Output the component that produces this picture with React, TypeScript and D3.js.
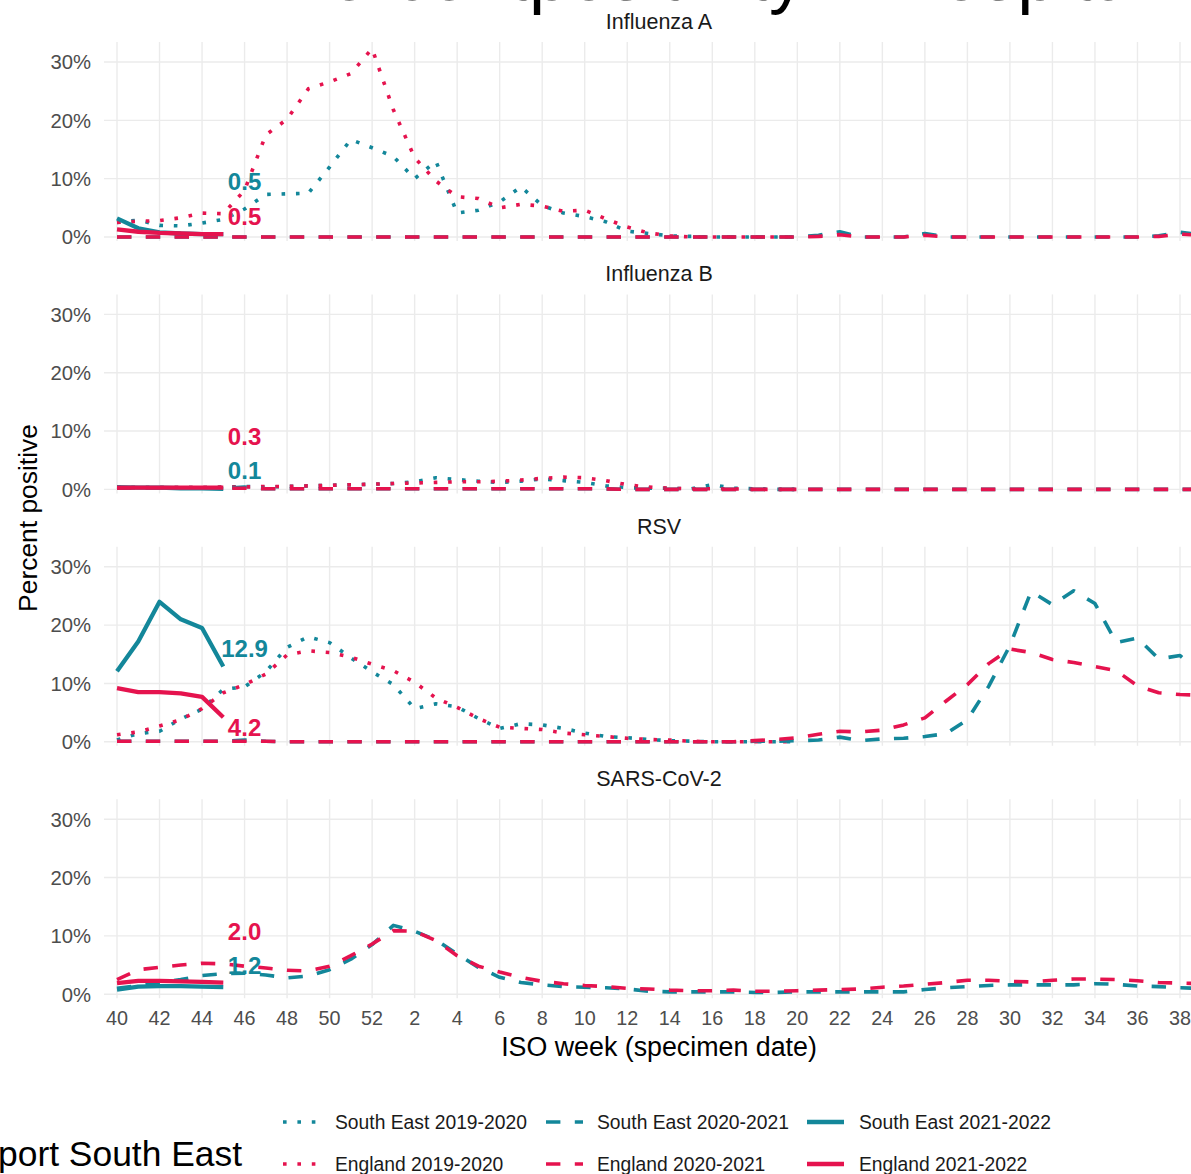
import React from 'react';
import * as d3 from 'd3';

// ISO weeks shown on the x axis (season runs week 40 -> week 39)
const weeks = [40, 41, 42, 43, 44, 45, 46, 47, 48, 49, 50, 51, 52, 1, 2, 3, 4, 5, 6, 7, 8, 9, 10, 11, 12, 13, 14, 15, 16, 17, 18, 19, 20, 21, 22, 23, 24, 25, 26, 27, 28, 29, 30, 31, 32, 33, 34, 35, 36, 37, 38, 39];
const tickWeeks = [40, 42, 44, 46, 48, 50, 52, 2, 4, 6, 8, 10, 12, 14, 16, 18, 20, 22, 24, 26, 28, 30, 32, 34, 36, 38];
const yTicks = [0, 10, 20, 30];
const panelNames = ['Influenza A', 'Influenza B', 'RSV', 'SARS-CoV-2'];

// Influenza A
const fluA_se_1920 = [2.5, 2.9, 2.0, 1.9, 2.4, 3.0, 4.8, 7.3, 7.4, 7.5, 12.0, 16.7, 15.3, 13.8, 10.0, 13.0, 4.1, 4.6, 6.0, 8.6, 5.4, 4.1, 3.5, 2.6, 1.0, 0.6, 0.2, 0.1, 0, 0, 0, 0, 0];
const fluA_eng_1920 = [2.5, 2.7, 2.8, 3.3, 4.1, 4.0, 8.0, 17.5, 20.2, 25.4, 26.6, 28.0, 32.3, 21.8, 13.6, 9.6, 6.9, 6.6, 5.0, 5.6, 5.3, 4.4, 4.6, 3.1, 1.7, 0.7, 0.2, 0, 0, 0, 0, 0, 0];
const fluA_se_2021 = [0, 0, 0, 0, 0, 0, 0, 0, 0, 0, 0, 0, 0, 0, 0, 0, 0, 0, 0, 0, 0, 0, 0, 0, 0, 0, 0, 0, 0, 0, 0, 0, 0, 0.3, 0.9, 0, 0, 0, 0.6, 0, 0, 0, 0, 0, 0, 0, 0, 0, 0, 0.2, 0.8, 0.4];
const fluA_eng_2021 = [0, 0, 0, 0, 0, 0, 0, 0, 0, 0, 0, 0, 0, 0, 0, 0, 0, 0, 0, 0, 0, 0, 0, 0, 0, 0, 0, 0, 0, 0, 0, 0, 0, 0.1, 0.4, 0, 0, 0, 0.3, 0, 0, 0, 0, 0, 0, 0, 0, 0, 0, 0.1, 0.5, 0.3];
const fluA_se_2122 = [3.2, 1.5, 0.8, 0.6, 0.5, 0.5];
const fluA_eng_2122 = [1.3, 0.9, 0.7, 0.6, 0.5, 0.5];

// Influenza B
const fluB_se_1920 = [0.4, 0.3, 0.3, 0.3, 0.3, 0.4, 0.5, 0.4, 0.5, 0.6, 0.7, 0.8, 0.9, 1.0, 1.3, 2.0, 1.7, 1.4, 1.2, 1.4, 1.8, 1.5, 1.2, 0.6, 0.3, 0.2, 0.2, 0.1, 0.8, 0.2, 0.1, 0, 0];
const fluB_eng_1920 = [0.3, 0.3, 0.3, 0.3, 0.3, 0.4, 0.4, 0.5, 0.5, 0.6, 0.7, 0.8, 0.9, 1.0, 1.1, 1.2, 1.3, 1.3, 1.4, 1.6, 1.9, 2.1, 2.0, 1.5, 0.8, 0.4, 0.2, 0.1, 0.1, 0.1, 0, 0, 0];
const fluB_se_2021 = [0.2, 0.2, 0.2, 0.2, 0.2, 0.2, 0.4, 0.1, 0.1, 0.1, 0.1, 0.1, 0.1, 0.1, 0.1, 0.1, 0.1, 0.1, 0.1, 0.1, 0.1, 0.1, 0.1, 0.1, 0, 0, 0, 0, 0, 0, 0, 0, 0, 0, 0, 0, 0, 0, 0, 0, 0, 0, 0, 0, 0, 0, 0, 0, 0, 0, 0, 0];
const fluB_eng_2021 = [0.2, 0.2, 0.2, 0.2, 0.2, 0.2, 0.2, 0.1, 0.1, 0.1, 0.1, 0.1, 0.1, 0.1, 0.1, 0.1, 0.1, 0.1, 0.1, 0.1, 0.1, 0.1, 0.1, 0.1, 0, 0, 0, 0, 0, 0, 0, 0, 0, 0, 0, 0, 0, 0, 0, 0, 0, 0, 0, 0, 0, 0, 0, 0, 0, 0, 0, 0];
const fluB_se_2122 = [0.4, 0.3, 0.3, 0.2, 0.2, 0.1];
const fluB_eng_2122 = [0.3, 0.3, 0.3, 0.3, 0.3, 0.3];

// RSV
const rsv_se_1920 = [0.3, 1.4, 1.8, 3.9, 5.6, 9.0, 9.4, 12.0, 16.2, 18.0, 17.0, 14.4, 12.0, 9.8, 5.7, 6.5, 6.0, 4.0, 2.3, 3.1, 2.9, 2.3, 1.5, 0.9, 0.7, 0.4, 0.2, 0.1, 0, 0, 0, 0, 0];
const rsv_eng_1920 = [1.2, 1.7, 2.7, 3.8, 5.7, 8.4, 9.8, 11.6, 14.9, 15.6, 15.3, 14.5, 13.3, 12.2, 10.2, 7.5, 5.9, 4.0, 2.5, 2.3, 2.1, 1.5, 1.2, 0.9, 0.6, 0.4, 0.3, 0.1, 0, 0, 0, 0, 0];
const rsv_se_2021 = [0.1, 0.1, 0.1, 0.1, 0.1, 0.1, 0.3, 0.1, 0, 0, 0, 0, 0, 0, 0, 0, 0, 0, 0, 0, 0, 0, 0, 0, 0, 0, 0, 0, 0, 0, 0.1, 0.1, 0.2, 0.3, 0.8, 0.2, 0.5, 0.6, 0.9, 1.4, 3.8, 9.5, 16.5, 25.8, 23.5, 25.9, 23.7, 17.0, 17.8, 14.2, 14.8, 11.5];
const rsv_eng_2021 = [0.1, 0.1, 0.1, 0.1, 0.1, 0.1, 0.1, 0.1, 0, 0, 0, 0, 0, 0, 0, 0, 0, 0, 0, 0, 0, 0, 0, 0, 0, 0, 0, 0, 0, 0, 0.2, 0.4, 0.7, 1.3, 1.8, 1.7, 2.0, 2.9, 4.1, 7.0, 9.8, 13.4, 15.9, 15.3, 14.1, 13.6, 12.9, 12.2, 9.6, 8.4, 8.1, 8.0];
const rsv_se_2122 = [12.1, 17.2, 24.0, 21.0, 19.5, 12.9];
const rsv_eng_2122 = [9.2, 8.5, 8.5, 8.3, 7.7, 4.2];

// SARS-CoV-2 (no 2019-2020 series)
const sars_se_2021 = [1.0, 1.5, 2.0, 2.5, 3.2, 3.5, 3.6, 3.3, 2.8, 3.1, 4.2, 6.0, 8.5, 11.8, 10.8, 9.3, 6.9, 4.6, 2.9, 2.0, 1.6, 1.3, 1.2, 1.1, 0.9, 0.5, 0.4, 0.4, 0.4, 0.4, 0.3, 0.3, 0.4, 0.4, 0.4, 0.4, 0.4, 0.4, 0.8, 1.1, 1.3, 1.5, 1.6, 1.6, 1.6, 1.6, 1.8, 1.7, 1.4, 1.3, 1.1, 1.0];
const sars_eng_2021 = [2.5, 4.2, 4.6, 5.0, 5.3, 5.2, 4.8, 4.5, 4.1, 4.0, 4.8, 6.6, 8.6, 10.9, 10.8, 9.2, 6.6, 4.8, 3.8, 2.9, 2.2, 1.8, 1.5, 1.3, 1.0, 0.9, 0.7, 0.6, 0.6, 0.7, 0.5, 0.5, 0.6, 0.7, 0.8, 0.9, 1.2, 1.4, 1.7, 2.0, 2.4, 2.4, 2.2, 2.1, 2.4, 2.6, 2.6, 2.5, 2.3, 2.0, 1.9, 1.8];
const sars_se_2122 = [0.8, 1.3, 1.4, 1.4, 1.3, 1.2];
const sars_eng_2122 = [1.9, 2.3, 2.3, 2.2, 2.1, 2.0];

// end-of-line labels: text and where the label sits (percent units)
const labelText = [['0.5', '0.5'], ['0.1', '0.3'], ['12.9', '4.2'], ['1.2', '2.0']];
const labelY = [[9.6, 3.6], [3.3, 9.1], [16.0, 2.4], [5.0, 10.8]];

const TEAL = '#13879a';
const PINK = '#e5134e';

const styles = {
  '1920': { dash: '3.6 10.8', width: 3.6 },
  '2021': { dash: '14.4 14.4', width: 3.6 },
  '2122': { dash: null, width: 4.3 },
};

const panelData = [
  { se1920: fluA_se_1920, eng1920: fluA_eng_1920, se2021: fluA_se_2021, eng2021: fluA_eng_2021, se2122: fluA_se_2122, eng2122: fluA_eng_2122 },
  { se1920: fluB_se_1920, eng1920: fluB_eng_1920, se2021: fluB_se_2021, eng2021: fluB_eng_2021, se2122: fluB_se_2122, eng2122: fluB_eng_2122 },
  { se1920: rsv_se_1920, eng1920: rsv_eng_1920, se2021: rsv_se_2021, eng2021: rsv_eng_2021, se2122: rsv_se_2122, eng2122: rsv_eng_2122 },
  { se1920: [], eng1920: [], se2021: sars_se_2021, eng2021: sars_eng_2021, se2122: sars_se_2122, eng2122: sars_eng_2122 },
];

const legendItems = [
  { label: 'South East 2019-2020', color: TEAL, season: '1920' },
  { label: 'South East 2020-2021', color: TEAL, season: '2021' },
  { label: 'South East 2021-2022', color: TEAL, season: '2122' },
  { label: 'England 2019-2020', color: PINK, season: '1920' },
  { label: 'England 2020-2021', color: PINK, season: '2021' },
  { label: 'England 2021-2022', color: PINK, season: '2122' },
];

const W = 1191;
const H = 1174;
const FONT = '"Liberation Sans", Arial, Helvetica, sans-serif';
const panelLeft = 104;
const firstZero = 237;
const panelStep = 252.4;

const App: React.FC = () => {
  const x = d3.scaleLinear().domain([0, 50]).range([117, 1180]);
  const weekIndex = (w: number) => weeks.indexOf(w, w >= 40 ? 0 : 13);

  return (
    <div style={{ position: 'absolute', left: 0, top: 0, width: W, height: H, overflow: 'hidden', background: '#fff' }}>
      <svg width={W} height={H} style={{ display: 'block' }} fontFamily={FONT}>
        <rect width={W} height={H} fill="#fff" />

        {/* page heading, almost entirely above the crop */}
        <text x={529} y={0} textAnchor="end" fontSize={72} fill="#000">Percent </text>
        <text x={529} y={0} fontSize={72} fill="#000">positivity in hospital</text>

        {panelNames.map((name, p) => {
          const zero = firstZero + p * panelStep;
          const y = d3.scaleLinear().domain([0, 30]).range([zero, zero - 175]);
          const line = d3.line<number>().x((_, i) => x(i)).y(d => y(d));
          const d = panelData[p];
          const series = [
            { v: d.se1920, c: TEAL, s: styles['1920'] },
            { v: d.eng1920, c: PINK, s: styles['1920'] },
            { v: d.se2021, c: TEAL, s: styles['2021'] },
            { v: d.eng2021, c: PINK, s: styles['2021'] },
            { v: d.se2122, c: TEAL, s: styles['2122'] },
            { v: d.eng2122, c: PINK, s: styles['2122'] },
          ];
          const top = zero - 195;
          const bottom = zero + 4;
          return (
            <g key={name}>
              <text x={659} y={zero - 208} textAnchor="middle" fontSize={21.5} fill="#1a1a1a">{name}</text>
              {yTicks.map(t => (
                <line key={'h' + t} x1={panelLeft} x2={W} y1={y(t)} y2={y(t)} stroke="#ebebeb" strokeWidth={1.4} />
              ))}
              {tickWeeks.map(w => (
                <line key={'v' + w} x1={x(weekIndex(w))} x2={x(weekIndex(w))} y1={top} y2={bottom} stroke="#ebebeb" strokeWidth={1.4} />
              ))}
              {yTicks.map(t => (
                <text key={'yl' + t} x={91} y={y(t)} dy="0.36em" textAnchor="end" fontSize={20.3} fill="#4d4d4d">{t}%</text>
              ))}
              {series.filter(s => s.v.length > 0).map((s, i) => (
                <path key={i} d={line(s.v) || ''} fill="none" stroke={s.c} strokeWidth={s.s.width}
                  strokeDasharray={s.s.dash || undefined} strokeLinejoin="round" />
              ))}
              {labelText[p].map((txt, i) => (
                <text key={'lab' + i} x={x(6)} y={y(labelY[p][i])} dy="0.36em" textAnchor="middle"
                  fontSize={24} fontWeight="bold" fill={i === 0 ? TEAL : PINK}>{txt}</text>
              ))}
            </g>
          );
        })}

        {tickWeeks.map(w => (
          <text key={'xt' + w} x={x(weekIndex(w))} y={1025} textAnchor="middle" fontSize={19.8} fill="#4d4d4d">{w}</text>
        ))}
        <text x={659} y={1056} textAnchor="middle" fontSize={26.8} fill="#000">ISO week (specimen date)</text>
        <text transform="translate(37,518) rotate(-90)" textAnchor="middle" fontSize={26.4} fill="#000">Percent positive</text>

        {legendItems.map((it, i) => {
          const col = i % 3;
          const row = Math.floor(i / 3);
          const kx = [283, 546, 807][col];
          const tx = [335, 597, 859][col];
          const ly = row === 0 ? 1122 : 1164;
          const s = styles[it.season as keyof typeof styles];
          return (
            <g key={it.label}>
              <line x1={kx} x2={kx + 37} y1={ly} y2={ly} stroke={it.color} strokeWidth={s.width}
                strokeDasharray={s.dash || undefined} />
              <text x={tx} y={ly} dy="0.36em" fontSize={19.3} fill="#1a1a1a">{it.label}</text>
            </g>
          );
        })}

        <text x={242} y={1166} textAnchor="end" fontSize={35.4} fill="#000">port South East</text>
      </svg>
    </div>
  );
};

export default App;
